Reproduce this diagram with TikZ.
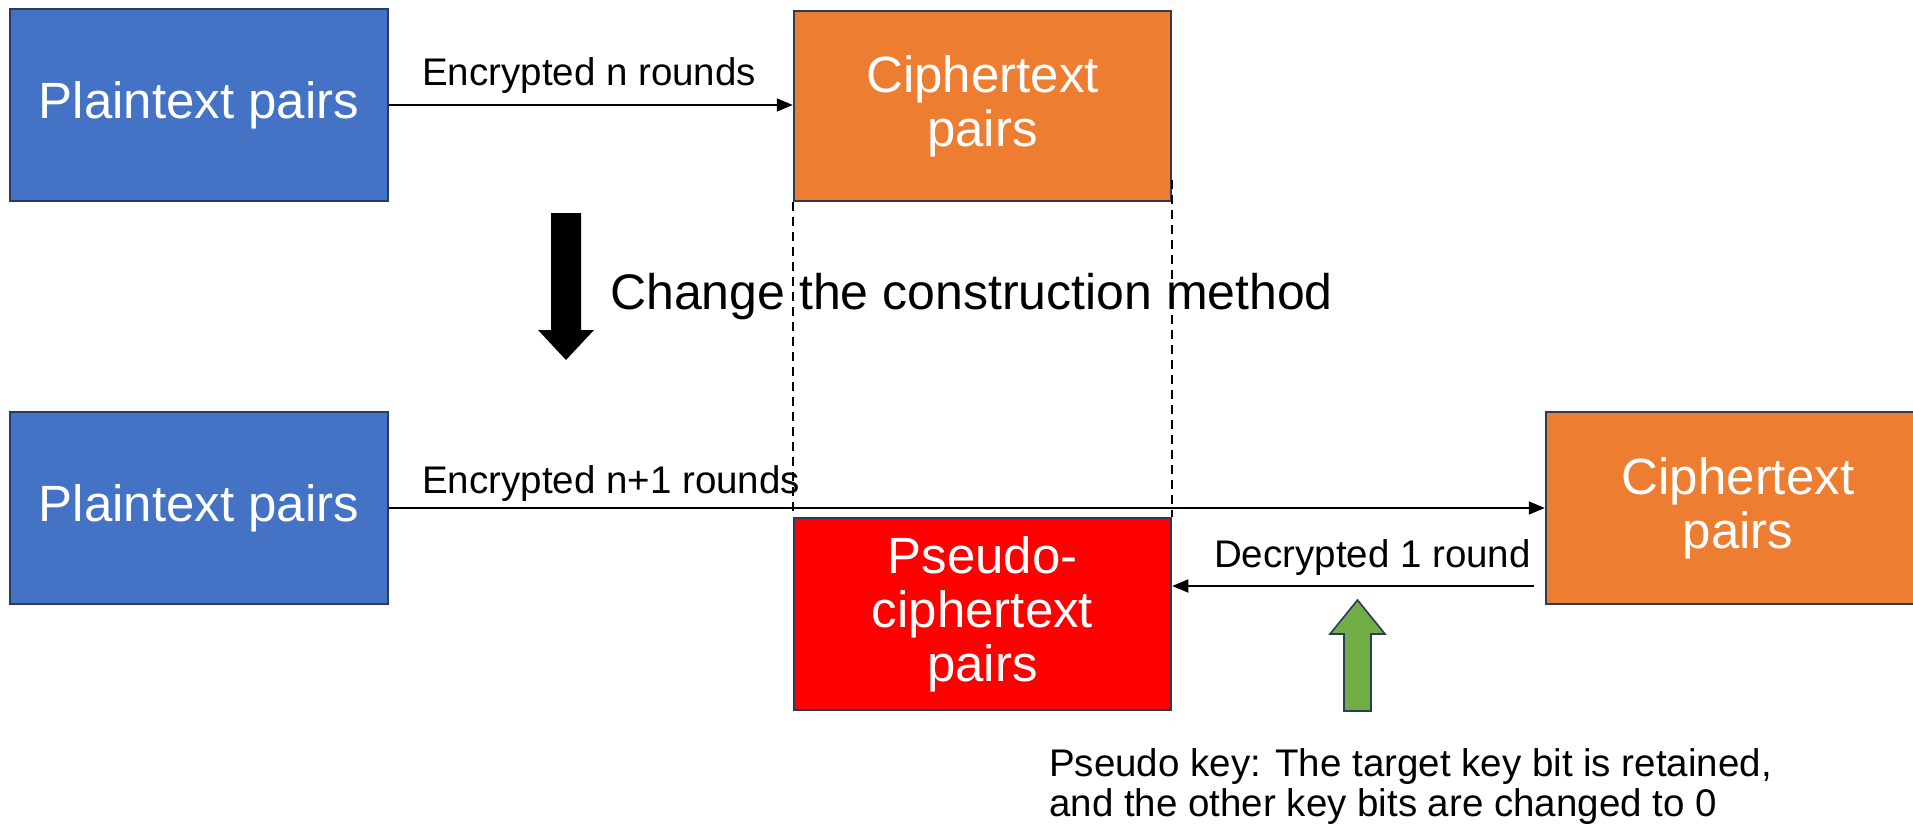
\documentclass[tikz,border=0pt]{standalone}
\usepackage{fontspec}
\setmainfont{Liberation Sans}
\usetikzlibrary{arrows.meta}
\definecolor{boxblue}{HTML}{4472C4}
\definecolor{boxorange}{HTML}{ED7D31}
\definecolor{boxred}{HTML}{FF0000}
\definecolor{keygreen}{HTML}{70AD47}
\definecolor{edgenavy}{HTML}{2B3B5C}
\tikzset{
  block/.style={draw=edgenavy, line width=2.5pt, text=white, align=center,
    inner sep=0pt, font=\fontsize{51}{54}\selectfont},
  flow/.style={draw=black, line width=1.6pt, -{Triangle[length=16pt,width=13pt]}},
  caption/.style={text=black, inner sep=0pt, font=\fontsize{38.5}{40}\selectfont},
  guide/.style={draw=black, line width=1.6pt, dash pattern=on 9pt off 6pt},
}
\begin{document}
\begin{tikzpicture}[x=1pt,y=-1pt]
\useasboundingbox (0,0) rectangle (1913,827);
\clip (0,0) rectangle (1913,827);

% upper row: n rounds
\node[block, fill=boxblue, minimum width=378pt, minimum height=192pt] (plainA) at (199,105) {Plaintext pairs};
\node[block, fill=boxorange, minimum width=377pt, minimum height=190pt] (cipherA) at (982.5,106) {Ciphertext\\pairs};
\draw[flow] (plainA.east) -- (plainA.east -| cipherA.west);
\node[caption, anchor=base west] (encA) at (422,85) {Encrypted n rounds};

% change of construction
\fill[black] (551,213) -- (581,213) -- (581,330) -- (594,330) -- (566,360) -- (538,330) -- (551,330) -- cycle;
\node[caption, anchor=base west, font=\fontsize{50}{52}\selectfont] (change) at (610,309) {Change the construction method};

% lower row: n+1 rounds and one round back
\node[block, fill=boxblue, minimum width=378pt, minimum height=192pt] (plainB) at (199,508) {Plaintext pairs};
\node[block, fill=boxred, minimum width=377pt, minimum height=192pt] (pseudo) at (982.5,614) {Pseudo-\\ciphertext\\pairs};
\node[block, fill=boxorange, minimum width=384pt, minimum height=192pt] (cipherB) at (1738,508) {Ciphertext\\pairs};

% guides joining the two ciphertext boxes
\coordinate (gL) at (cipherA.south west);
\coordinate (gR) at ([yshift=22pt]cipherA.south east);
\draw[guide] (gL) -- (gL |- pseudo.north);
\draw[guide] (gR) -- (gR |- pseudo.north);

\draw[flow] (plainB.east) -- (plainB.east -| cipherB.west);
\node[caption, anchor=base west] (encB) at (422,493) {Encrypted n+1 rounds};

\coordinate (decStart) at (1534,586);
\draw[flow] (decStart) -- (decStart -| pseudo.east);
\node[caption, anchor=base east] (dec) at (1531,567) {Decrypted 1 round};

% pseudo key arrow and note
\filldraw[fill=keygreen, draw=edgenavy, line width=1.6pt]
  (1344,711) -- (1344,634) -- (1330,634) -- (1357.5,600) -- (1385,634) -- (1371,634) -- (1371,711) -- cycle;
\node[caption, anchor=base west, align=left] (note) at (1049,816)
  {Pseudo key: The target key bit is retained,\\and the other key bits are changed to 0};
\end{tikzpicture}
\end{document}
